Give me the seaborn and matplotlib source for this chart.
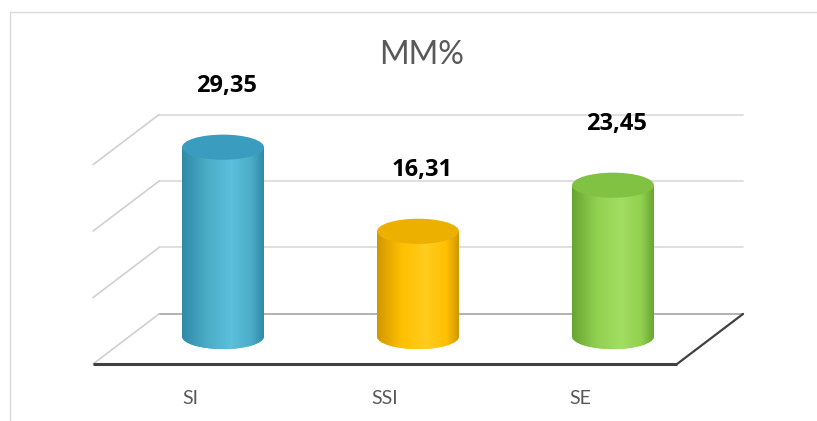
import numpy as np
import pandas as pd
import matplotlib
matplotlib.use("Agg")
import matplotlib.pyplot as plt
import seaborn as sns
from matplotlib.patches import Ellipse, Rectangle
from matplotlib.colors import LinearSegmentedColormap

# data
categories = ["SI", "SSI", "SE"]
values = [29.35, 16.31, 23.45]
grid_ticks = [0, 10, 20, 30]
title = "MM%"

# colours per bar
bar_colors = ["#4bacc6", "#ffc000", "#92d050"]
edge_colors = ["#2f8aa8", "#d09600", "#66a532"]
light_colors = ["#5bc0dc", "#ffcc1f", "#a2de62"]
top_colors = ["#3a9dbf", "#ecb000", "#82c243"]

sns.set_style("white")
plt.rcParams["font.family"] = ["Lato", "DejaVu Sans"]

fig = plt.figure(figsize=(8.17, 4.21), dpi=100)
ax = fig.add_axes([0, 0, 1, 1])

# fake 3d geometry (in data units)
bar_w = 0.42
cap_h = 3.9
wall_y = 3.5
wall_scale = 1.03
depth = (-0.338, -7.75)
floor_x = (-0.328, 2.667)

df = pd.DataFrame({"cat": categories, "val": values})
sns.barplot(data=df, x="cat", y="val", hue="cat", palette=bar_colors,
            width=bar_w, legend=False, ax=ax, zorder=3, linewidth=0)

# back wall gridlines + left side lines
for t in grid_ticks:
    y = wall_y + t * wall_scale
    c = "#a6a6a6" if t == 0 else "#d9d9d9"
    ax.plot([floor_x[0], floor_x[1]], [y, y], color=c, lw=1.2, zorder=1)
    ax.plot([floor_x[0], floor_x[0] + depth[0]], [y, y + depth[1]],
            color="#d0d0d0", lw=1.2, zorder=1)

# floor front and right edges
fl = (floor_x[0] + depth[0], wall_y + depth[1])
fr = (floor_x[1] + depth[0], wall_y + depth[1])
ax.plot([fl[0], fr[0]], [fl[1], fr[1]], color="#404040", lw=2.2, zorder=2,
        solid_capstyle="butt")
ax.plot([fr[0], floor_x[1]], [fr[1], wall_y], color="#404040", lw=1.6, zorder=2)

# cylinders: shade bars, add bottom and top caps
grad = np.linspace(0, 1, 256).reshape(1, -1)
for i, p in enumerate(ax.patches[:len(values)]):
    x0, w, h = p.get_x(), p.get_width(), p.get_height()
    cx = x0 + w / 2
    cmap = LinearSegmentedColormap.from_list(
        "cyl", [(0, edge_colors[i]), (0.3, bar_colors[i]), (0.6, light_colors[i]),
                (0.85, bar_colors[i]), (1, edge_colors[i])])
    bottom = Ellipse((cx, 0), w, cap_h, facecolor=bar_colors[i], edgecolor="none", zorder=3)
    ax.add_patch(bottom)
    im = ax.imshow(grad, extent=(x0, x0 + w, -cap_h / 2, h), aspect="auto",
                   cmap=cmap, zorder=4)
    im.set_clip_path(bottom)
    im2 = ax.imshow(grad, extent=(x0, x0 + w, 0, h), aspect="auto",
                    cmap=cmap, zorder=4)
    im2.set_clip_path(p)
    ax.add_patch(Ellipse((cx, h), w, cap_h, facecolor=top_colors[i],
                         edgecolor="none", zorder=5))
    ax.text(cx + 0.02, h + cap_h / 2 + 7.5, f"{values[i]:.2f}".replace(".", ","),
            ha="center", va="center", fontsize=17, fontweight="bold",
            family=["Open Sans", "DejaVu Sans"], color="black", zorder=6)
    ax.text(cx - 0.17, -9.6, categories[i], ha="center", va="center",
            fontsize=14, color="#595959")

ax.text(0.5155, 1 - 55 / 421, title, transform=ax.transAxes, ha="center",
        va="center", fontsize=23, color="#595959")

ax.set_xlim(-223 / 195, (817 - 223) / 195)
ax.set_ylim((336.5 - 421) / 6.45, 336.5 / 6.45)
ax.set_axis_off()

# chart border
fig.patches.append(Rectangle((10 / 817, -0.05), 1.0, 1.05 - 12 / 421,
                             transform=fig.transFigure, fill=False,
                             edgecolor="#d9d9d9", lw=1))

fig.savefig("out.png", dpi=100)
